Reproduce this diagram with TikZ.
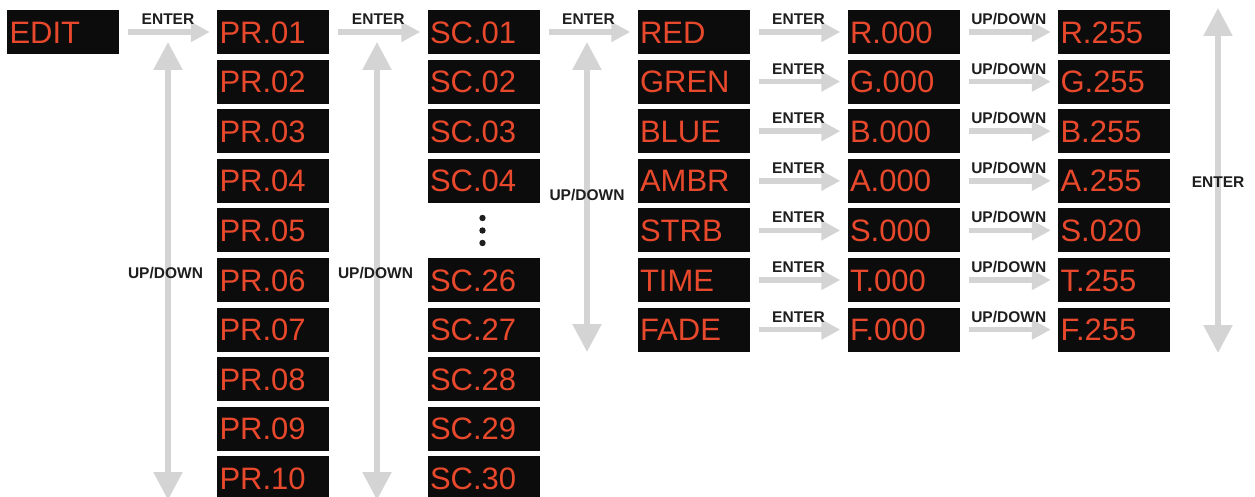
\documentclass[tikz,border=0pt]{standalone}
\usepackage{fontspec}
\setmainfont{Liberation Sans}
\usetikzlibrary{arrows.meta}
\definecolor{ledred}{HTML}{E8482B}
\definecolor{boxblack}{HTML}{0C0C0C}
\definecolor{arrowgray}{HTML}{D4D4D4}
\definecolor{labgray}{HTML}{1E1E1E}
\begin{document}
\begin{tikzpicture}[x=1pt,y=-1pt,
  disp/.style={fill=boxblack, draw=none, text=ledred,
    text width=107pt, inner xsep=2.5pt, inner ysep=0pt, minimum height=44pt,
    align=left, text height=22.2pt, text depth=0pt,
    font=\fontsize{31}{31}\selectfont},
  lab/.style={font=\fontsize{15.5}{15.5}\selectfont\bfseries, text=labgray, inner sep=0pt, anchor=base},
  hlab/.style={lab, yshift=7.5pt},
  harrow/.style={draw=arrowgray, line width=5.5pt, -{Triangle[length=19pt,width=19pt]},
    shorten <=9pt, shorten >=7pt},
  varrow/.style={draw=arrowgray, line width=5.5pt,
    {Triangle[length=28pt,width=28pt]}-{Triangle[length=28pt,width=28pt]}},
  dotmark/.style={circle, fill=labgray, inner sep=0pt, minimum size=6.4pt}
]
\useasboundingbox (0,0) rectangle (1255,497);
\fill[white] (0,0) rectangle (1255,497);

% vertical UP/DOWN and ENTER arrows
\coordinate (a1t) at (168,42);  \coordinate (a1b) at (168,500);
\coordinate (a2t) at (377,42);  \coordinate (a2b) at (377,500);
\coordinate (a3t) at (587,42);  \coordinate (a3b) at (587,352);
\coordinate (a4t) at (1218,8);  \coordinate (a4b) at (1218,353);
\draw[varrow] (a1t) -- (a1b);
\draw[varrow] (a2t) -- (a2b);
\draw[varrow] (a3t) -- (a3b);
\draw[varrow] (a4t) -- (a4b);
\node[lab] (u1) at (165.5,278.5) {UP/DOWN};
\node[lab] (u2) at (375.5,278.5) {UP/DOWN};
\node[lab] (u3) at (587,200.5) {UP/DOWN};
\node[lab] (u4) at (1218,187.5) {ENTER};

% EDIT
\node[disp] (edit) at (63,32) {EDIT};

% PR column
\foreach \i in {1,...,10} {
  \pgfmathsetmacro\yy{32+(\i-1)*49.6}
  \node[disp] (pr\i) at (273,\yy) {PR.\ifnum\i<10 0\fi\i};
}

% SC column
\foreach \i/\t in {1/01,2/02,3/03,4/04,6/26,7/27,8/28,9/29,10/30} {
  \pgfmathsetmacro\yy{32+(\i-1)*49.6}
  \node[disp] (sc\i) at (483.5,\yy) {SC.\t};
}
\node[dotmark] (d1) at (482.5,218) {};
\node[dotmark] (d2) at (482.5,230.5) {};
\node[dotmark] (d3) at (482.5,243) {};

\draw[harrow] (edit) -- node[hlab] {ENTER} (pr1);
\draw[harrow] (pr1) -- node[hlab] {ENTER} (sc1);

% colour rows
\foreach \i/\n/\L/\v in {1/RED/R/255,2/GREN/G/255,3/BLUE/B/255,4/AMBR/A/255,5/STRB/S/020,6/TIME/T/255,7/FADE/F/255} {
  \pgfmathsetmacro\yy{32+(\i-1)*49.6}
  \node[disp] (c\i) at (693.5,\yy) {\n};
  \node[disp] (v\i) at (903.5,\yy) {\L.000};
  \node[disp] (w\i) at (1114,\yy) {\L.\v};
  \draw[harrow] (c\i) -- node[hlab] {ENTER} (v\i);
  \draw[harrow] (v\i) -- node[hlab] {UP/DOWN} (w\i);
}
\draw[harrow] (sc1) -- node[hlab] {ENTER} (c1);
\end{tikzpicture}
\end{document}
